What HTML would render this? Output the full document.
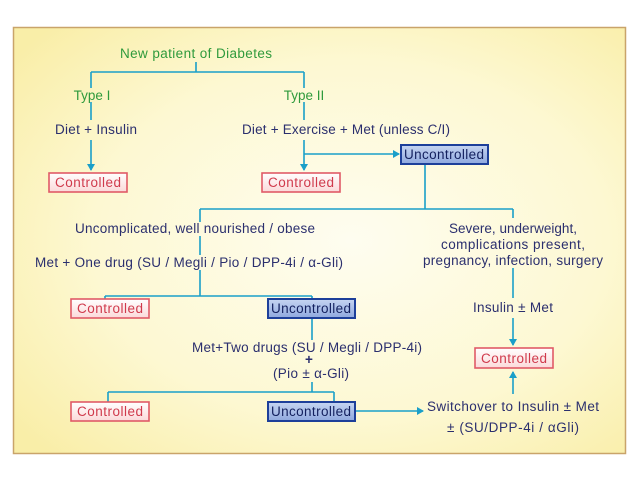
<!DOCTYPE html>
<html><head><style>
body{margin:0;background:#fff;}
svg{display:block;font-family:"Liberation Sans",sans-serif;}
</style></head><body>
<svg width="638" height="478" viewBox="0 0 638 478" xmlns="http://www.w3.org/2000/svg">
<defs>
<radialGradient id="bg" cx="0.55" cy="0.5" r="0.7">
<stop offset="0" stop-color="#fefdf0"/><stop offset="0.6" stop-color="#fdf8d2"/><stop offset="1" stop-color="#f9eea8"/>
</radialGradient>
<linearGradient id="ctl" x1="0" y1="0" x2="0" y2="1"><stop offset="0" stop-color="#fff"/><stop offset="1" stop-color="#fbd9d9"/></linearGradient>
<linearGradient id="unc" x1="0" y1="0" x2="0" y2="1"><stop offset="0" stop-color="#c6d5f2"/><stop offset="1" stop-color="#8fa8de"/></linearGradient>
<marker id="ar" markerWidth="8" markerHeight="8" refX="6" refY="4" orient="auto" markerUnits="userSpaceOnUse"><path d="M0,0 L7,4 L0,8 z" fill="#1a9fc9"/></marker>
</defs>
<rect x="13.5" y="27.5" width="612" height="426" fill="url(#bg)" stroke="#c9a46a" stroke-width="1.5"/>
<g stroke="#1a9fc9" stroke-width="1.6" fill="none">
<path d="M196 62V72M91 72H304M91 72V88M304 72V88"/>
<path d="M91 102V120M304 102V120"/>
<path d="M91 140V170" marker-end="url(#ar)"/>
<path d="M304 140V170" marker-end="url(#ar)"/>
<path d="M304 154H399" marker-end="url(#ar)"/>
<path d="M425 164V209M200 209H513M200 209V222M513 209V218"/>
<path d="M200 236V255M200 270V296M105 296H312M105 296V299M312 296V299"/>
<path d="M312 318V340M312 382V392M108 392H334M108 392V402M334 392V402"/>
<path d="M355 411H423" marker-end="url(#ar)"/>
<path d="M513 268V298"/>
<path d="M513 318V345" marker-end="url(#ar)"/>
<path d="M513 394V372" marker-end="url(#ar)"/>
</g>
<g stroke="#e05a67" stroke-width="1.6" fill="url(#ctl)">
<rect x="49" y="173" width="78" height="19"/>
<rect x="262" y="173" width="78" height="19"/>
<rect x="71" y="299" width="78" height="19"/>
<rect x="71" y="402" width="78" height="19"/>
<rect x="475" y="348" width="78" height="20"/>
</g>
<g stroke="#1d3f9a" stroke-width="2" fill="url(#unc)">
<rect x="401" y="145" width="87" height="19"/>
<rect x="268" y="299" width="87" height="19"/>
<rect x="268" y="402" width="87" height="19"/>
</g>
<g font-size="13.5" text-anchor="middle">
<g fill="#2f9a3c">
<text x="196" y="58" textLength="152">New patient of Diabetes</text>
<text x="92" y="100">Type I</text>
<text x="304" y="100">Type II</text>
</g>
<g fill="#d03a4c">
<text x="88" y="187" textLength="66">Controlled</text>
<text x="301" y="187" textLength="66">Controlled</text>
<text x="110" y="313" textLength="66">Controlled</text>
<text x="110" y="416" textLength="66">Controlled</text>
<text x="514" y="363" textLength="66">Controlled</text>
</g>
<g fill="#13205e">
<text x="444" y="159" textLength="80">Uncontrolled</text>
<text x="311" y="313" textLength="80">Uncontrolled</text>
<text x="311" y="416" textLength="80">Uncontrolled</text>
</g>
<g fill="#2b2f6e">
<text x="96" y="134" textLength="82">Diet + Insulin</text>
<text x="346" y="134" textLength="208">Diet + Exercise + Met (unless C/I)</text>
<text x="195" y="233" textLength="240">Uncomplicated, well nourished / obese</text>
<text x="513" y="233" textLength="128">Severe, underweight,</text>
<text x="513" y="249" textLength="144">complications present,</text>
<text x="513" y="265" textLength="180">pregnancy, infection, surgery</text>
<text x="189" y="267" textLength="308">Met + One drug (SU / Megli / Pio / DPP-4i / α-Gli)</text>
<text x="513" y="312" textLength="80">Insulin ± Met</text>
<text x="307" y="352" textLength="230">Met+Two drugs (SU / Megli / DPP-4i)</text>
<text x="309" y="364" font-weight="bold">+</text>
<text x="311" y="378" textLength="76">(Pio ± α-Gli)</text>
<text x="513" y="411" textLength="172">Switchover to Insulin ± Met</text>
<text x="513" y="432" textLength="132">± (SU/DPP-4i / αGli)</text>
</g>
</g>
</svg>
</body></html>
